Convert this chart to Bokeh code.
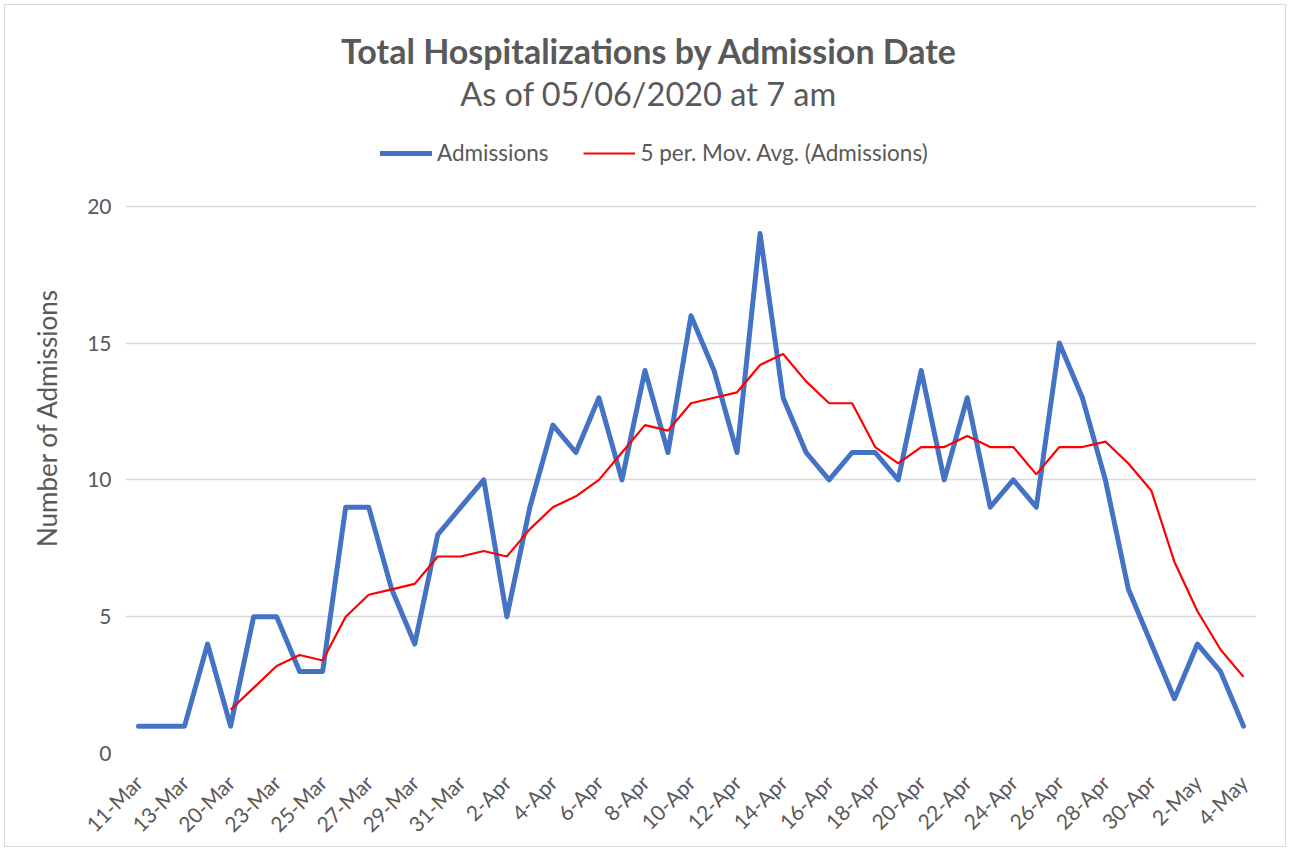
import pandas as pd
from bokeh.plotting import figure
from bokeh.models import (Range1d, FixedTicker, Label, Legend, LegendItem, ColumnDataSource)
from bokeh.embed import file_html
from bokeh.resources import INLINE

dates = ["11-Mar", "12-Mar", "13-Mar", "17-Mar", "20-Mar", "22-Mar", "23-Mar", "24-Mar",
         "25-Mar", "26-Mar", "27-Mar", "28-Mar", "29-Mar", "30-Mar", "31-Mar", "1-Apr",
         "2-Apr", "3-Apr", "4-Apr", "5-Apr", "6-Apr", "7-Apr", "8-Apr", "9-Apr",
         "10-Apr", "11-Apr", "12-Apr", "13-Apr", "14-Apr", "15-Apr", "16-Apr", "17-Apr",
         "18-Apr", "19-Apr", "20-Apr", "21-Apr", "22-Apr", "23-Apr", "24-Apr", "25-Apr",
         "26-Apr", "27-Apr", "28-Apr", "29-Apr", "30-Apr", "1-May", "2-May", "3-May", "4-May"]
admissions = [1, 1, 1, 4, 1, 5, 5, 3, 3, 9, 9, 6, 4, 8, 9, 10, 5, 9, 12, 11, 13, 10, 14, 11,
              16, 14, 11, 19, 13, 11, 10, 11, 11, 10, 14, 10, 13, 9, 10, 9, 15, 13, 10, 6,
              4, 2, 4, 3, 1]
y_ticks = [0, 5, 10, 15, 20]

idx = list(range(len(dates)))
mov_avg = pd.Series(admissions, dtype=float).rolling(5).mean().tolist()

FONT = "Lato"
GRAY = "#595959"

OFF = 5                        # canvas origin inside the page (margin + border)
W, H = 1282, 843
FRAME_TOP = 8 - OFF
FRAME_LEFT = 125 - OFF
FRAME_RIGHT = 1256 - OFF
FRAME_BOTTOM = 754 - OFF
UNIT = (754 - 206) / 20.0          # pixels per admission
STEP = (1243 - 138) / 48.0         # pixels per category
x0 = -(138 - 125) / STEP
x1 = 48 + (1256 - 1243) / STEP
y1 = (754 - 8) / UNIT

p = figure(width=W, height=H, output_backend="svg", toolbar_location=None,
           x_range=Range1d(x0, x1), y_range=Range1d(0, y1),
           min_border_left=FRAME_LEFT, min_border_right=W - FRAME_RIGHT,
           min_border_top=FRAME_TOP, min_border_bottom=H - FRAME_BOTTOM)
p.outline_line_color = None
p.background_fill_color = "white"
p.border_fill_color = "white"
p.styles = {"margin": "4px", "border": "1.5px solid #D9D9D9"}

src = ColumnDataSource(dict(x=idx, adm=admissions, ma=mov_avg))
r_adm = p.line("x", "adm", source=src, line_color="#4472C4", line_width=5,
               line_join="round", line_cap="round")
r_ma = p.line("x", "ma", source=src, line_color="#FF0000", line_width=2.2)

# axes
p.xgrid.grid_line_color = None
p.ygrid.grid_line_color = "#D9D9D9"
p.ygrid.grid_line_width = 1.5
p.yaxis.ticker = FixedTicker(ticks=y_ticks)
p.yaxis.axis_line_color = None
p.yaxis.major_tick_line_color = None
p.yaxis.minor_tick_line_color = None
p.yaxis.major_label_text_font = FONT
p.yaxis.major_label_text_font_size = "21px"
p.yaxis.major_label_text_color = GRAY
p.yaxis.major_label_standoff = 8
p.yaxis.axis_label = "Number of Admissions" + "\u00a0" * 11
p.yaxis.axis_label_text_font = FONT
p.yaxis.axis_label_text_font_size = "26px"
p.yaxis.axis_label_text_font_style = "normal"
p.yaxis.axis_label_text_color = GRAY
p.yaxis.axis_label_standoff = 21

p.xaxis.ticker = FixedTicker(ticks=idx[::2])
p.xaxis.major_label_overrides = {i: dates[i] for i in idx[::2]}
p.xaxis.axis_line_color = None
p.xaxis.major_tick_line_color = None
p.xaxis.minor_tick_line_color = None
p.xaxis.major_label_orientation = 0.785398
p.xaxis.major_label_text_font = FONT
p.xaxis.major_label_text_font_size = "21px"
p.xaxis.major_label_text_color = GRAY
p.xaxis.major_label_standoff = 19


def dx(px):
    return (px - 138) / STEP


def dy(py):
    return (754 - py) / UNIT


p.add_layout(Label(x=dx(649), y=dy(50), text="Total Hospitalizations by Admission Date",
                   text_font=FONT, text_font_size="34px", text_font_style="bold",
                   text_color=GRAY, text_align="center", text_baseline="middle"))
p.add_layout(Label(x=dx(648), y=dy(93), text="As of 05/06/2020 at 7 am",
                   text_font=FONT, text_font_size="32.5px", text_color=GRAY,
                   text_align="center", text_baseline="middle"))

legend = Legend(items=[LegendItem(label="Admissions", renderers=[r_adm]),
                       LegendItem(label="5 per. Mov. Avg. (Admissions)", renderers=[r_ma])],
                orientation="horizontal", location=(380 - 125, 754 - 167),
                glyph_width=52, glyph_height=22, label_height=22, label_standoff=5,
                spacing=35, padding=0, margin=0,
                label_text_font=FONT, label_text_font_size="22.5px", label_text_color=GRAY,
                border_line_color=None, background_fill_alpha=0)
p.add_layout(legend)

open("out.html", "w").write(file_html(p, INLINE))
